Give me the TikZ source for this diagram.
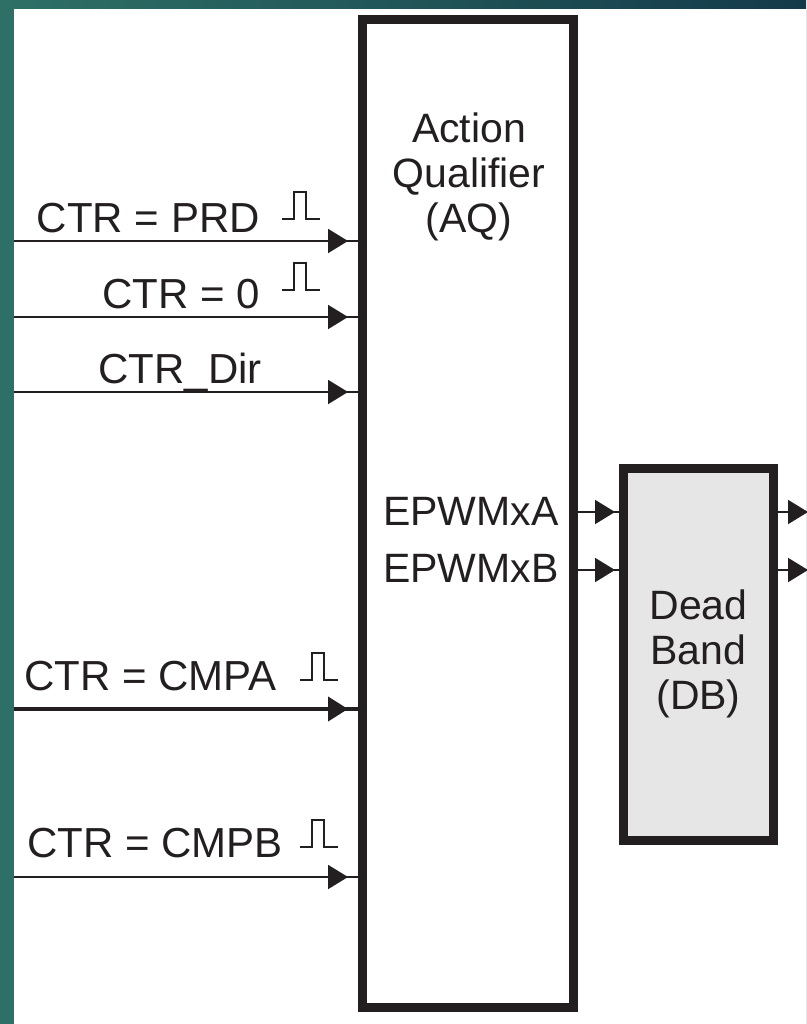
\documentclass[tikz,border=0pt]{standalone}
\usepackage{fontspec}
\setmainfont{Liberation Sans}
\usetikzlibrary{positioning,arrows.meta,decorations.markings}

\begin{document}
\begin{tikzpicture}[x=1pt,y=-1pt]
    % Define colors
    \definecolor{inkcolor}{RGB}{35, 31, 32}
    \definecolor{dbfill}{RGB}{230, 230, 230}
    \definecolor{slideleft}{RGB}{46, 112, 102}
    \definecolor{slideright}{RGB}{20, 58, 74}
    \tikzset{
        lbl/.style={font=\fontsize{41}{45}\selectfont, text=inkcolor, inner sep=0pt},
        inlbl/.style={lbl, font=\fontsize{42}{45}\selectfont, anchor=base east},
        block/.style={draw=inkcolor, line width=9pt, rectangle, inner sep=0pt, outer sep=0pt},
        sig/.style={color=inkcolor, line width=2pt},
        midtip/.style={postaction={decorate}, decoration={markings,
            mark=at position #1 with {\arrow{Triangle[length=20pt,width=24pt]}}}},
        pics/pulse/.style={code={
            \draw[inkcolor, line width=1.5pt] (0,0) -- (12,0) -- (12,-27) -- (24,-27) -- (24,0) -- (38,0);
        }}
    }

    % Slide background
    \shade[left color=slideleft, right color=slideright] (0,0) rectangle (806,1024);
    \fill[white] (14,9) rectangle (806,1024);
    \useasboundingbox (0,0) rectangle (806,1024);

    % Blocks
    \node[block, minimum width=211pt, minimum height=987pt] (aq) at (467.5, 513.5) {};
    \node[block, fill=dbfill, minimum width=150pt, minimum height=372pt, lbl, align=center] (db) at (698.5, 654) {Dead\\Band\\(DB)};
    \node[lbl, anchor=north, align=center] (aqtitle) at (469, 113) {Action\\Qualifier\\(AQ)};

    % Input signals
    \node[inlbl] (prd) at (260, 233) {CTR = PRD};
    \node[inlbl] (zero) at (260, 308) {CTR = 0};
    \node[inlbl] (dir) at (262, 383) {CTR\_Dir};
    \node[inlbl] (cmpa) at (277, 690) {CTR = CMPA};
    \node[inlbl] (cmpb) at (283, 857) {CTR = CMPB};

    \pic at (282, 219) {pulse};
    \pic at (282, 290) {pulse};
    \pic at (300, 680) {pulse};
    \pic at (300, 847) {pulse};

    \foreach \n/\y in {1/241, 2/317, 3/392, 5/877} {
        \coordinate (in\n) at (14, \y);
        \draw[sig, midtip=-14pt] (in\n) -- (in\n -| aq.west);
    }
    \coordinate (in4) at (14, 709);
    \draw[sig, line width=4pt, midtip=-14pt] (in4) -- (in4 -| aq.west);

    % Outputs of AQ into DB
    \node[lbl, anchor=base west] (epwma) at (383, 525) {EPWMxA};
    \node[lbl, anchor=base west] (epwmb) at (383, 582) {EPWMxB};
    \coordinate (outa) at (808, 512);
    \coordinate (outb) at (808, 570);
    \draw[sig, midtip=-8.5pt] (aq.east |- outa) -- (db.west |- outa);
    \draw[sig, midtip=-8.5pt] (aq.east |- outb) -- (db.west |- outb);

    % Outputs of DB
    \draw[sig, -{Triangle[length=20pt,width=24pt]}] (db.east |- outa) -- (outa);
    \draw[sig, -{Triangle[length=20pt,width=24pt]}] (db.east |- outb) -- (outb);
\end{tikzpicture}
\end{document}
